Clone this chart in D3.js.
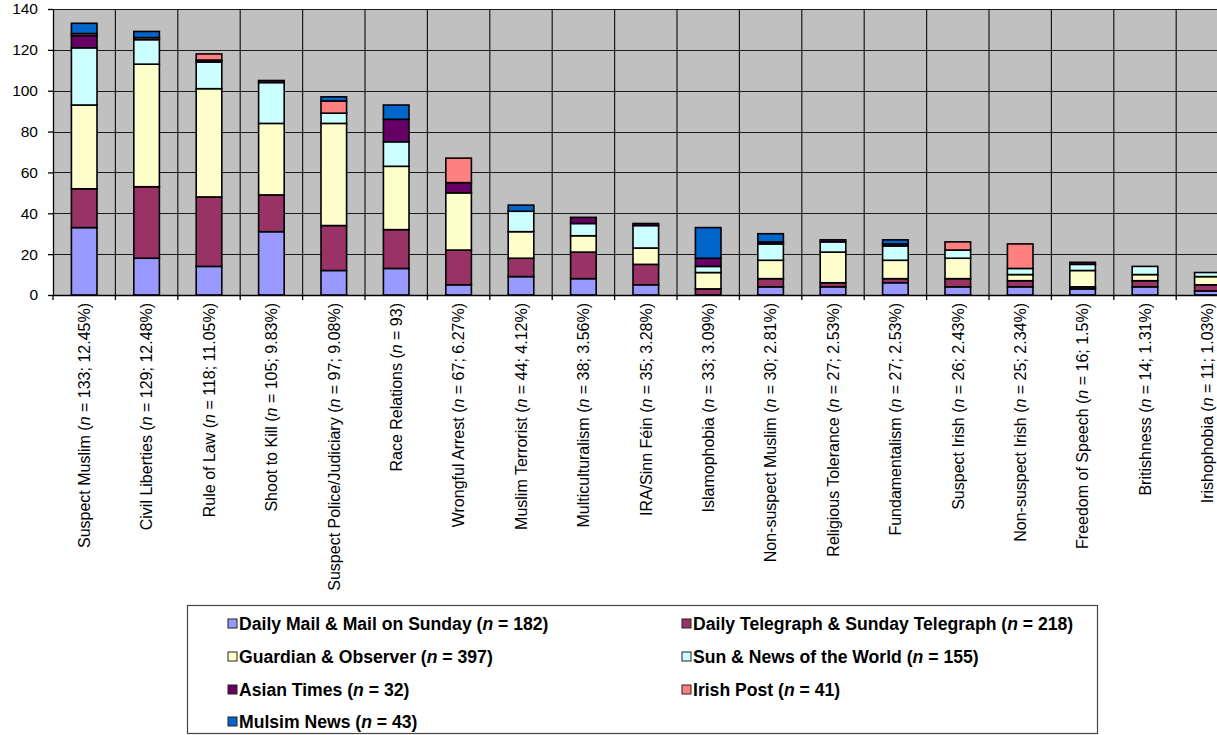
<!DOCTYPE html>
<html>
<head>
<meta charset="utf-8">
<script src="https://cdn.jsdelivr.net/npm/d3@7"></script>
<style>
  html, body { margin: 0; padding: 0; background: #ffffff; }
  svg { display: block; }
</style>
</head>
<body>
<svg id="chart" width="1217" height="735"></svg>
<script>
// Frame categories, in order of frequency
const categories = [
  "Suspect Muslim", "Civil Liberties", "Rule of Law", "Shoot to Kill",
  "Suspect Police/Judiciary", "Race Relations", "Wrongful Arrest",
  "Muslim Terrorist", "Multiculturalism", "IRA/Sinn Féin", "Islamophobia",
  "Non-suspect Muslim", "Religious Tolerance", "Fundamentalism",
  "Suspect Irish", "Non-suspect Irish", "Freedom of Speech",
  "Britishness", "Irishophobia"
];
const categoryCounts = [133, 129, 118, 105, 97, 93, 67, 44, 38, 35, 33, 30, 27, 27, 26, 25, 16, 14, 11];
const categoryShares = ["12.45%", "12.48%", "11.05%", "9.83%", "9.08%", null, "6.27%", "4.12%",
  "3.56%", "3.28%", "3.09%", "2.81%", "2.53%", "2.53%", "2.43%", "2.34%", "1.5%", "1.31%", "1.03%"];

// Articles per frame, by newspaper group
const dailyMail      = [33, 18, 14, 31, 12, 13,  5,  9,  8,  5,  0, 4,  4, 6,  4,  4, 3, 4, 2];
const telegraph      = [19, 35, 34, 18, 22, 19, 17,  9, 13, 10,  3, 4,  2, 2,  4,  3, 1, 3, 3];
const guardian       = [41, 60, 53, 35, 50, 31, 28, 13,  8,  8,  8, 9, 15, 9, 10,  3, 8, 3, 4];
const sunNews        = [28, 12, 13, 20,  5, 12,  0, 10,  6, 11,  3, 8,  5, 7,  4,  3, 3, 4, 2];
const asianTimes     = [ 6,  0,  1,  1,  0, 11,  5,  0,  3,  1,  4, 1,  1, 1,  0,  0, 1, 0, 0];
const irishPost      = [ 1,  1,  3,  0,  6,  0, 12,  0,  0,  0,  0, 0,  0, 0,  4, 12, 0, 0, 0];
const muslimNews     = [ 5,  3,  0,  0,  2,  7,  0,  3,  0,  0, 15, 4,  0, 2,  0,  0, 0, 0, 0];

const seriesNames = [
  "Daily Mail & Mail on Sunday", "Daily Telegraph & Sunday Telegraph",
  "Guardian & Observer", "Sun & News of the World",
  "Asian Times", "Irish Post", "Mulsim News"
];
const seriesTotals = [182, 218, 397, 155, 32, 41, 43];
const seriesColors = ["#9999FF", "#993366", "#FFFFCC", "#CCFFFF", "#660066", "#FF8080", "#0066CC"];
const seriesValues = [dailyMail, telegraph, guardian, sunNews, asianTimes, irishPost, muslimNews];

const yTicks = [0, 20, 40, 60, 80, 100, 120, 140];

// Table of rows for the stack layout
const keys = seriesNames;
const rows = categories.map((c, i) => {
  const r = { category: c };
  keys.forEach((k, j) => { r[k] = seriesValues[j][i]; });
  return r;
});

const svg = d3.select("#chart");
const plot = { left: 53, top: 9, bottom: 295, step: 62.4 };
plot.right = plot.left + plot.step * categories.length;

const x = d3.scaleBand()
  .domain(categories)
  .range([plot.left, plot.right])
  .paddingInner(0.59)
  .paddingOuter(0.295);

const y = d3.scaleLinear().domain([0, 140]).range([plot.bottom, plot.top]);

// Plot background
svg.append("rect")
  .attr("x", plot.left).attr("y", plot.top)
  .attr("width", plot.right - plot.left).attr("height", plot.bottom - plot.top)
  .attr("fill", "#C0C0C0");

// Horizontal gridlines
svg.append("g").selectAll("line").data(yTicks.filter(t => t > 0)).join("line")
  .attr("x1", plot.left).attr("x2", plot.right)
  .attr("y1", d => Math.round(y(d)) + 0.5).attr("y2", d => Math.round(y(d)) + 0.5)
  .attr("stroke", "#1a1a1a").attr("stroke-width", 1.2);

// Vertical gridlines at category boundaries
const boundaries = d3.range(1, categories.length + 1).map(i => plot.left + i * x.step());
svg.append("g").selectAll("line").data(boundaries).join("line")
  .attr("x1", d => d).attr("x2", d => d)
  .attr("y1", plot.top).attr("y2", plot.bottom)
  .attr("stroke", "#1a1a1a").attr("stroke-width", 1.2);

// Stacked bars
const stacked = d3.stack().keys(keys)(rows);
svg.append("g").selectAll("g").data(stacked).join("g")
  .attr("fill", (d, i) => seriesColors[i])
  .selectAll("rect").data(d => d.filter(s => s[1] - s[0] > 0)).join("rect")
  .attr("x", d => x(d.data.category))
  .attr("width", x.bandwidth())
  .attr("y", d => y(d[1]))
  .attr("height", d => y(d[0]) - y(d[1]))
  .attr("stroke", "#000")
  .attr("stroke-width", 1.6);

// Y axis
const yAxis = svg.append("g")
  .attr("transform", `translate(${plot.left},0)`)
  .call(d3.axisLeft(y).tickValues(yTicks).tickSize(5).tickPadding(10).tickSizeOuter(0));
yAxis.select(".domain").attr("stroke", "#000").attr("stroke-width", 1.3);
yAxis.selectAll(".tick line").attr("stroke", "#000").attr("stroke-width", 1.3);
yAxis.selectAll(".tick text")
  .attr("font-family", "Arial, 'Liberation Sans', sans-serif")
  .attr("font-size", 15.5).attr("fill", "#000");

// X axis with labels
const xAxis = svg.append("g")
  .attr("transform", `translate(0,${plot.bottom})`)
  .call(d3.axisBottom(x).tickSize(0).tickSizeOuter(0));
xAxis.select(".domain").attr("stroke", "#000").attr("stroke-width", 1.3);
xAxis.selectAll(".tick text").remove();
xAxis.selectAll(".tick").each(function (d, i) {
  const t = d3.select(this).append("text")
    .attr("transform", "rotate(-90)")
    .attr("x", -8).attr("y", 0).attr("dy", "0.36em")
    .attr("text-anchor", "end")
    .attr("font-family", "Arial, 'Liberation Sans', sans-serif")
    .attr("font-size", 16).attr("fill", "#000");
  t.append("tspan").text(d + " (");
  t.append("tspan").attr("font-style", "italic").text("n");
  const tail = categoryShares[i] ? ` = ${categoryCounts[i]}; ${categoryShares[i]})` : ` = ${categoryCounts[i]})`;
  t.append("tspan").text(tail);
});
svg.append("g").selectAll("line").data([plot.left, ...boundaries]).join("line")
  .attr("x1", d => d).attr("x2", d => d)
  .attr("y1", plot.bottom).attr("y2", plot.bottom + 5)
  .attr("stroke", "#000").attr("stroke-width", 1.3);

// Legend
const legend = svg.append("g");
legend.append("rect")
  .attr("x", 187.5).attr("y", 605.5).attr("width", 910).attr("height", 128)
  .attr("fill", "#fff").attr("stroke", "#444").attr("stroke-width", 1.2);
const colX = [228, 682];
const rowY = [624, 657, 690, 722];
seriesNames.forEach((name, i) => {
  const cx = colX[i % 2], cy = rowY[Math.floor(i / 2)];
  legend.append("rect")
    .attr("x", cx).attr("y", cy - 5).attr("width", 9).attr("height", 9)
    .attr("fill", seriesColors[i]).attr("stroke", "#222").attr("stroke-width", 1);
  const t = legend.append("text")
    .attr("x", cx + 11).attr("y", cy).attr("dy", "0.36em")
    .attr("font-family", "Arial, 'Liberation Sans', sans-serif")
    .attr("font-weight", "bold").attr("font-size", 17.6).attr("fill", "#000");
  t.append("tspan").text(name + " (");
  t.append("tspan").attr("font-style", "italic").text("n");
  t.append("tspan").text(` = ${seriesTotals[i]})`);
});
</script>
</body>
</html>
